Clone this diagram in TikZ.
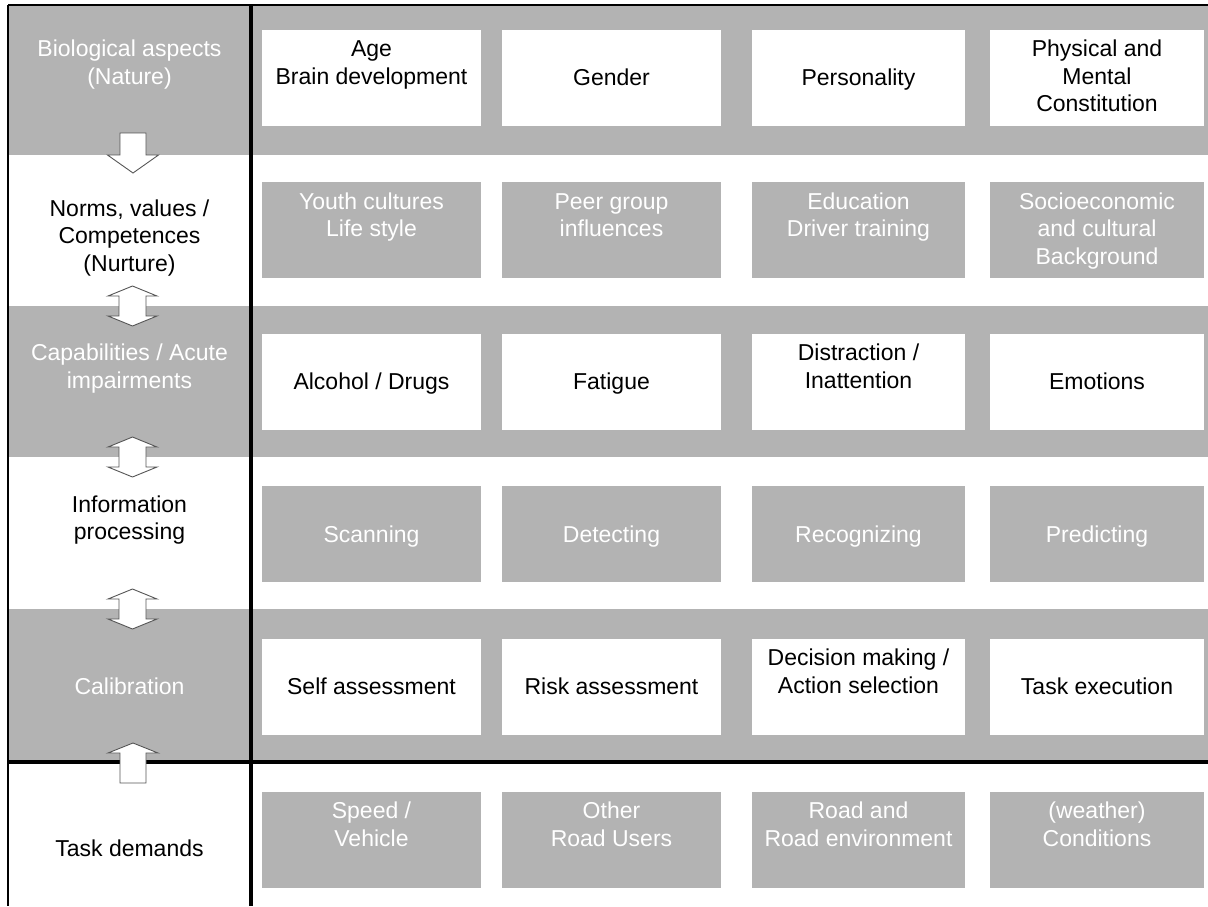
\documentclass[tikz,border=0pt]{standalone}
\usepackage{fontspec}
\setmainfont{Liberation Sans}
\definecolor{bandgray}{RGB}{179,179,179}
\definecolor{arrowline}{RGB}{85,85,85}
\tikzset{
  cell/.style={minimum height=96pt, inner sep=0pt, draw=none},
  wcell/.style={cell, fill=white},
  gcell/.style={cell, fill=bandgray},
  colA/.style={minimum width=219pt},
  colB/.style={minimum width=219pt},
  colC/.style={minimum width=213pt},
  colD/.style={minimum width=214pt},
  txt/.style={font=\fontsize{23}{27.5}\selectfont, align=center, inner sep=0pt,
    yshift=-2.75pt, execute at begin node=\strut, execute at end node=\strut},
  btxt/.style={txt, text=black},
  wtxt/.style={txt, text=white},
  arrstyle/.style={draw=arrowline, fill=white, line width=0.9pt, line join=miter},
  downarrow/.pic={\path[arrstyle] (-13,-22) -- (13,-22) -- (13,0) -- (25.5,0) -- (0,18) -- (-25.5,0) -- (-13,0) -- cycle;},
  dblarrow/.pic={\path[arrstyle] (0,-20) -- (24.5,-10) -- (13.5,-10) -- (13.5,10) -- (24.5,10) -- (0,20) -- (-24.5,10) -- (-13.5,10) -- (-13.5,-10) -- (-24.5,-10) -- cycle;},
  uparrow/.pic={\path[arrstyle] (0,-19) -- (25,-9) -- (13,-9) -- (13,21) -- (-13,21) -- (-13,-9) -- (-25,-9) -- cycle;},
  frame/.style={draw=black, line width=2pt},
  thickframe/.style={draw=black, line width=3.5pt}
}
\begin{document}
\begin{tikzpicture}[x=1pt, y=-1pt]
\useasboundingbox (0,0) rectangle (1208,906);
% bands
\fill[bandgray] (8,5) rectangle (1208,155);
\fill[bandgray] (8,306) rectangle (1208,457);
\fill[bandgray] (8,609) rectangle (1208,762);

% row 1
\node[wcell, colA] (b11) at (371.5,77.5) {};
\node[wcell, colB] (b12) at (611.5,77.5) {};
\node[wcell, colC] (b13) at (858.5,77.5) {};
\node[wcell, colD] (b14) at (1097,77.5) {};
\node[btxt] (t11) at (b11.center) {Age\\Brain development\\};
\node[btxt] (t12) at (b12.center) {Gender};
\node[btxt] (t13) at (b13.center) {Personality};
\node[btxt] (t14) at (b14.center) {Physical and\\Mental\\Constitution};

% row 2
\node[gcell, colA] (b21) at (371.5,230) {};
\node[gcell, colB] (b22) at (611.5,230) {};
\node[gcell, colC] (b23) at (858.5,230) {};
\node[gcell, colD] (b24) at (1097,230) {};
\node[wtxt] (t21) at (b21.center) {Youth cultures\\Life style\\};
\node[wtxt] (t22) at (b22.center) {Peer group\\influences\\};
\node[wtxt] (t23) at (b23.center) {Education\\Driver training\\};
\node[wtxt] (t24) at (b24.center) {Socioeconomic\\and cultural\\Background};

% row 3
\node[wcell, colA] (b31) at (371.5,381.5) {};
\node[wcell, colB] (b32) at (611.5,381.5) {};
\node[wcell, colC] (b33) at (858.5,381.5) {};
\node[wcell, colD] (b34) at (1097,381.5) {};
\node[btxt] (t31) at (b31.center) {Alcohol / Drugs};
\node[btxt] (t32) at (b32.center) {Fatigue};
\node[btxt] (t33) at (b33.center) {Distraction /\\Inattention\\};
\node[btxt] (t34) at (b34.center) {Emotions};

% row 4
\node[gcell, colA] (b41) at (371.5,534) {};
\node[gcell, colB] (b42) at (611.5,534) {};
\node[gcell, colC] (b43) at (858.5,534) {};
\node[gcell, colD] (b44) at (1097,534) {};
\node[wtxt] (t41) at (b41.center) {Scanning};
\node[wtxt] (t42) at (b42.center) {Detecting};
\node[wtxt] (t43) at (b43.center) {Recognizing};
\node[wtxt] (t44) at (b44.center) {Predicting};

% row 5
\node[wcell, colA] (b51) at (371.5,686.5) {};
\node[wcell, colB] (b52) at (611.5,686.5) {};
\node[wcell, colC] (b53) at (858.5,686.5) {};
\node[wcell, colD] (b54) at (1097,686.5) {};
\node[btxt] (t51) at (b51.center) {Self assessment};
\node[btxt] (t52) at (b52.center) {Risk assessment};
\node[btxt] (t53) at (b53.center) {Decision making /\\Action selection\\};
\node[btxt] (t54) at (b54.center) {Task execution};

% row 6
\node[gcell, colA] (b61) at (371.5,839.5) {};
\node[gcell, colB] (b62) at (611.5,839.5) {};
\node[gcell, colC] (b63) at (858.5,839.5) {};
\node[gcell, colD] (b64) at (1097,839.5) {};
\node[wtxt] (t61) at (b61.center) {Speed /\\Vehicle\\};
\node[wtxt] (t62) at (b62.center) {Other\\Road Users\\};
\node[wtxt] (t63) at (b63.center) {Road and\\Road environment\\};
\node[wtxt] (t64) at (b64.center) {(weather)\\Conditions\\};

% left column labels
\node[wtxt] (l1) at (129.5,77.5) {Biological aspects\\(Nature)\\};
\node[btxt] (l2) at (129.5,237) {Norms, values /\\Competences\\(Nurture)};
\node[wtxt] (l3) at (129.5,381.5) {Capabilities / Acute\\impairments\\};
\node[btxt] (l4) at (129.5,533) {Information\\processing\\};
\node[wtxt] (l5) at (129.5,686) {Calibration};
\node[btxt] (l6) at (129.5,848) {Task demands};

% frame lines
\draw[frame] (8,5) -- (1208,5);
\draw[frame] (8,5) -- (8,906);
\draw[thickframe] (251,5) -- (251,906);
\draw[thickframe] (8,762) -- (1208,762);

% arrows
\pic (a1) at (133,155) {downarrow};
\pic (a2) at (132.5,306) {dblarrow};
\pic (a3) at (132.5,457) {dblarrow};
\pic (a4) at (132.5,609) {dblarrow};
\pic (a5) at (133,762) {uparrow};
\end{tikzpicture}
\end{document}
